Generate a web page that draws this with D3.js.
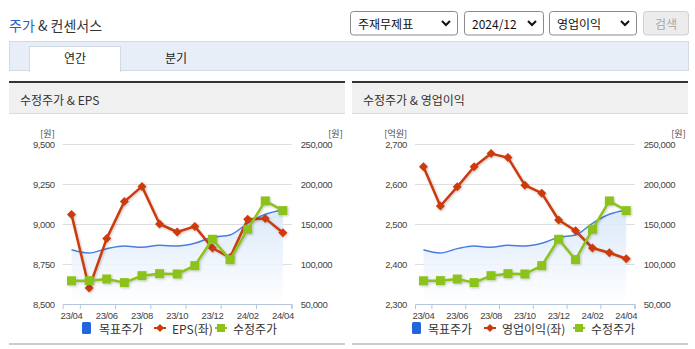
<!DOCTYPE html>
<html><head><meta charset="utf-8">
<script src="https://cdn.jsdelivr.net/npm/d3@7"></script>
<style>body{margin:0;background:#fff;} svg{display:block}</style>
</head><body><svg id="c" width="695" height="349"></svg>
<script>
const categories = ['23/04','23/05','23/06','23/07','23/08','23/09','23/10','23/11','23/12','24/01','24/02','24/03','24/04'];
const xTickLabels = ['23/04','23/06','23/08','23/10','23/12','24/02','24/04'];
const targetPrice = [117900,113800,119200,122500,120900,123400,122500,125900,133400,136300,150900,162100,167500];
const adjPrice = [79000,79200,81200,76700,85400,87900,87500,97900,130900,105400,143400,178800,166700];
const eps = [9060,8600,8910,9140,9235,9000,8950,8985,8850,8790,9030,9035,8945];
const opIncome = [2643,2545,2593,2643,2676,2666,2597,2577,2510,2483,2440,2428,2413];
const epsTicks = [8500,8750,9000,9250,9500];
const opTicks = [2300,2400,2500,2600,2700];
const priceTicks = [50000,100000,150000,200000,250000];

const KR = "'Noto Sans CJK KR','Noto Sans',sans-serif";
const NUM = "'Liberation Sans',Arial,sans-serif";
const svg = d3.select('#c');
const defs = svg.append('defs');
const grad = defs.append('linearGradient').attr('id','ag').attr('x1',0).attr('y1',0).attr('x2',0).attr('y2',1);
grad.append('stop').attr('offset',0).attr('stop-color','#d8e7f9');
grad.append('stop').attr('offset',1).attr('stop-color','#ffffff');
const sh = defs.append('filter').attr('id','sh').attr('x','-10%').attr('y','-10%').attr('width','130%').attr('height','130%');
sh.append('feDropShadow').attr('dx',1).attr('dy',1).attr('stdDeviation',1).attr('flood-color','#000').attr('flood-opacity',0.22);

// ---------- header ----------
const t = svg.append('text').attr('x',9).attr('y',31).attr('font-family',KR).attr('font-size',14);
t.append('tspan').attr('fill','#2c5bc9').text('주가');
t.append('tspan').attr('fill','#333').text(' & 컨센서스');

function selectBox(x0,x1,label){
  svg.append('rect').attr('x',x0+0.5).attr('y',11.5).attr('width',x1-x0).attr('height',23.5).attr('rx',3)
    .attr('fill','#fff').attr('stroke','#8a8a8a');
  svg.append('text').attr('x',x0+8).attr('y',23.5).attr('dominant-baseline','central')
    .attr('font-family',KR).attr('font-size',12).attr('fill','#111').text(label);
  const cx = x1-11;
  svg.append('path').attr('d',`M${cx-4},${21}L${cx},${25}L${cx+4},${21}`).attr('fill','none')
    .attr('stroke','#111').attr('stroke-width',2);
}
selectBox(350,457,'주재무제표');
selectBox(464,543,'2024/12');
selectBox(549,636,'영업이익');
svg.append('rect').attr('x',643.5).attr('y',11.5).attr('width',45).attr('height',23.5).attr('rx',3)
  .attr('fill','#ececec').attr('stroke','#cfcfcf');
svg.append('text').attr('x',666).attr('y',23.5).attr('dominant-baseline','central').attr('text-anchor','middle')
  .attr('font-family',KR).attr('font-size',12).attr('fill','#a8a8a8').text('검색');

// tabs
svg.append('rect').attr('x',9.5).attr('y',41.5).attr('width',679).attr('height',29).attr('fill','#e8eef8').attr('stroke','#d2dae6');
svg.append('rect').attr('x',29.5).attr('y',46.5).attr('width',91).attr('height',25).attr('fill','#fff').attr('stroke','#d2dae6');
svg.append('rect').attr('x',30).attr('y',70).attr('width',90).attr('height',2).attr('fill','#fff');
svg.append('text').attr('x',75).attr('y',57.5).attr('dominant-baseline','central').attr('text-anchor','middle')
  .attr('font-family',KR).attr('font-size',12).attr('fill','#222').text('연간');
svg.append('text').attr('x',176).attr('y',57.5).attr('dominant-baseline','central').attr('text-anchor','middle')
  .attr('font-family',KR).attr('font-size',12).attr('fill','#222').text('분기');

// ---------- chart panels ----------
const TOP = 144, BOT = 304;

function panel(cfg){
  const g = svg.append('g');
  // panel header
  g.append('rect').attr('x',cfg.px).attr('y',81).attr('width',cfg.pw).attr('height',2).attr('fill','#333');
  g.append('rect').attr('x',cfg.px).attr('y',83).attr('width',cfg.pw).attr('height',30).attr('fill','#f0f0f0');
  g.append('rect').attr('x',cfg.px).attr('y',113).attr('width',cfg.pw).attr('height',1).attr('fill','#dcdcdc');
  g.append('text').attr('x',cfg.px+11).attr('y',99).attr('dominant-baseline','central')
    .attr('font-family',KR).attr('font-size',12).attr('fill','#333').text(cfg.title);
  g.append('rect').attr('x',cfg.px).attr('y',343).attr('width',cfg.pw).attr('height',2).attr('fill','#cccccc');

  const x = d3.scaleBand().domain(categories).range([cfg.x0,cfg.x1]).padding(0);
  const bw = x.bandwidth();
  const cx = d => x(d)+bw/2;
  const yL = d3.scaleLinear().domain(cfg.lDomain).range([BOT,TOP]);
  const yR = d3.scaleLinear().domain([50000,250000]).range([BOT,TOP]);

  // grid
  g.append('g').selectAll('line').data(cfg.lTicks.slice(1)).join('line')
    .attr('x1',cfg.x0).attr('x2',cfg.x1).attr('y1',d=>Math.round(yL(d))+0.5).attr('y2',d=>Math.round(yL(d))+0.5)
    .attr('stroke','#dedede');

  // left axis labels
  const la = g.append('g').attr('transform',`translate(${cfg.x0-8},0)`)
    .call(d3.axisLeft(yL).tickValues(cfg.lTicks).tickSize(0).tickPadding(0).tickFormat(d3.format(',')));
  la.select('.domain').remove();
  la.selectAll('text').attr('font-family',NUM).attr('font-size',9.5).attr('letter-spacing',-0.4).attr('fill','#444');
  const ra = g.append('g').attr('transform',`translate(${cfg.x1+9},0)`)
    .call(d3.axisRight(yR).tickValues(priceTicks).tickSize(0).tickPadding(0).tickFormat(d3.format(',')));
  ra.select('.domain').remove();
  ra.selectAll('text').attr('font-family',NUM).attr('font-size',9.5).attr('letter-spacing',-0.4).attr('fill','#444');
  g.append('text').attr('x',cfg.x0-8).attr('y',133).attr('text-anchor','end').attr('dominant-baseline','central')
    .attr('font-family',KR).attr('font-size',9).attr('fill','#444').text(cfg.lUnit);
  g.append('text').attr('x',cfg.x1+51).attr('y',133).attr('text-anchor','end').attr('dominant-baseline','central')
    .attr('font-family',KR).attr('font-size',9).attr('fill','#444').text('[원]');

  // area + target line
  const area = d3.area().x((d,i)=>cx(categories[i])).y0(BOT).y1(d=>yR(d)).curve(d3.curveMonotoneX);
  g.append('path').datum(targetPrice).attr('d',area).attr('fill','url(#ag)').attr('opacity',0.9);
  const lineT = d3.line().x((d,i)=>cx(categories[i])).y(d=>yR(d)).curve(d3.curveMonotoneX);
  g.append('path').datum(targetPrice).attr('d',lineT).attr('fill','none').attr('stroke','#4a7de0').attr('stroke-width',1.5);

  // x axis
  const xa = g.append('g').attr('transform',`translate(0,${BOT})`)
    .call(d3.axisBottom(x).tickValues(xTickLabels).tickSize(5).tickSizeOuter(5).tickPadding(3));
  xa.select('.domain').attr('stroke','#b5c6da');
  xa.selectAll('.tick line').attr('x1',bw/2).attr('x2',bw/2).attr('stroke','#b5c6da');
  xa.selectAll('text').attr('font-family',NUM).attr('font-size',9.5).attr('letter-spacing',-0.4).attr('fill','#444');

  // left series (red)
  const lineL = d3.line().x((d,i)=>cx(categories[i])).y(d=>yL(d));
  const red = g.append('g').attr('filter','url(#sh)');
  red.append('path').datum(cfg.lSeries).attr('d',lineL).attr('fill','none').attr('stroke','#cc3a0a').attr('stroke-width',2.5).attr('stroke-linejoin','round');
  red.selectAll('path.m').data(cfg.lSeries).join('path').attr('class','m')
    .attr('d',(d,i)=>{const X=cx(categories[i]),Y=yL(d);return `M${X},${Y-4.5}L${X+4.5},${Y}L${X},${Y+4.5}L${X-4.5},${Y}Z`;})
    .attr('fill','#cc3a0a');

  // adjusted price (green)
  const lineG = d3.line().x((d,i)=>cx(categories[i])).y(d=>yR(d));
  const grn = g.append('g').attr('filter','url(#sh)');
  grn.append('path').datum(adjPrice).attr('d',lineG).attr('fill','none').attr('stroke','#8cc21a').attr('stroke-width',2.5).attr('stroke-linejoin','round');
  grn.selectAll('rect').data(adjPrice).join('rect')
    .attr('x',(d,i)=>cx(categories[i])-4.5).attr('y',d=>yR(d)-4.5).attr('width',9).attr('height',9)
    .attr('fill','#8cc21a');

  // legend
  const L = cfg.leg, ly = 328;
  g.append('rect').attr('x',L[0]).attr('y',ly-6).attr('width',9).attr('height',12).attr('rx',1.5).attr('fill','#2266dd');
  g.append('text').attr('x',L[1]).attr('y',ly).attr('dominant-baseline','central').attr('font-family',KR).attr('font-size',12).attr('fill','#333').text('목표주가');
  g.append('line').attr('x1',L[2]).attr('x2',L[2]+12).attr('y1',ly).attr('y2',ly).attr('stroke','#cc3a0a').attr('stroke-width',2);
  g.append('path').attr('d',`M${L[2]+6},${ly-4}L${L[2]+10},${ly}L${L[2]+6},${ly+4}L${L[2]+2},${ly}Z`).attr('fill','#cc3a0a');
  g.append('text').attr('x',L[3]).attr('y',ly).attr('dominant-baseline','central').attr('font-family',KR).attr('font-size',12).attr('fill','#333').text(cfg.lName);
  g.append('line').attr('x1',L[4]).attr('x2',L[4]+12).attr('y1',ly).attr('y2',ly).attr('stroke','#8cc21a').attr('stroke-width',2);
  g.append('rect').attr('x',L[4]+2).attr('y',ly-4).attr('width',8).attr('height',8).attr('fill','#8cc21a');
  g.append('text').attr('x',L[5]).attr('y',ly).attr('dominant-baseline','central').attr('font-family',KR).attr('font-size',12).attr('fill','#333').text('수정주가');
}

panel({px:9,pw:336,title:'수정주가 & EPS',x0:62.7,x1:291.7,lDomain:[8500,9500],lTicks:epsTicks,lSeries:eps,lUnit:'[원]',
  lName:'EPS(좌)',leg:[82,99,154,172,215,233]});
panel({px:352,pw:336,title:'수정주가 & 영업이익',x0:415,x1:634.7,lDomain:[2300,2700],lTicks:opTicks,lSeries:opIncome,lUnit:'[억원]',
  lName:'영업이익(좌)',leg:[412,428,484,502,573,591]});
</script></body></html>
